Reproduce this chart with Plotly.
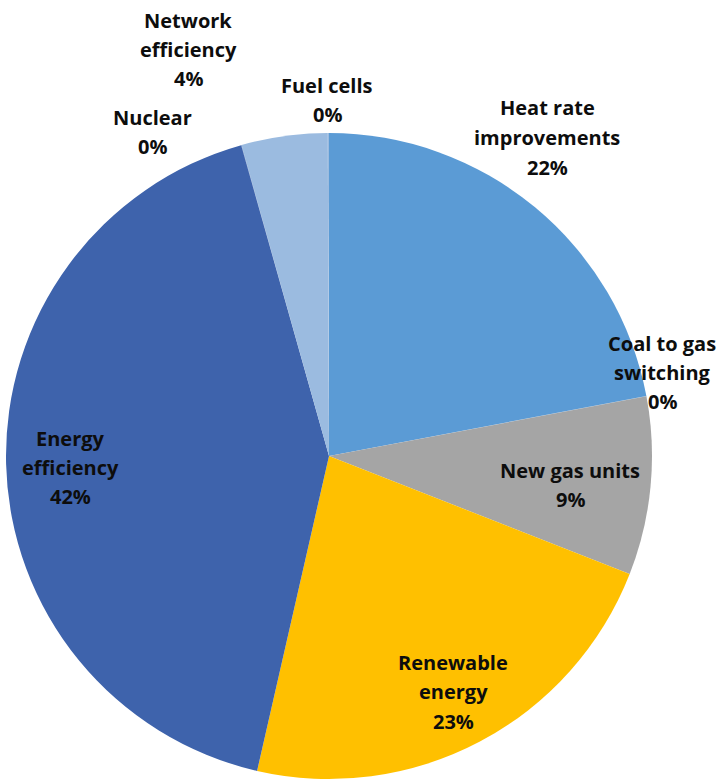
import plotly.graph_objects as go

labels = ["Heat rate<br>improvements", "Coal to gas<br>switching", "New gas units",
          "Renewable<br>energy", "Energy<br>efficiency", "Nuclear",
          "Network<br>efficiency", "Fuel cells"]
values = [22.0, 0.02, 8.9, 22.6, 42.0, 0.02, 4.3, 0.06]
colors = ["#5B9BD5", "#5B9BD5", "#A5A5A5", "#FFC000", "#3E63AC", "#3E63AC", "#9BBBE0", "#9BBBE0"]

# label anchor positions in pixels (centre x, first-line y)
label_pos = [(547, 108), (662, 343), (570, 470), (453, 662), (70, 438), (152, 117), (188, 20), (327, 85)]

W, H = 725, 780
fig = go.Figure(go.Pie(
    labels=[l.replace("<br>", " ") for l in labels], values=values, sort=False,
    direction="clockwise", rotation=0,
    marker=dict(colors=colors, line=dict(width=0)),
    textinfo="none", hoverinfo="label+percent", showlegend=False,
    domain=dict(x=[6 / W, 652 / W], y=[1 / H, 647 / H]),
))

total = sum(values)
LS = 29.5
for lab, v, (cx, cy) in zip(labels, values, label_pos):
    lines = lab.split("<br>") + [f"{round(v / total * 100)}%"]
    for i, t in enumerate(lines):
        fig.add_annotation(
            x=cx / W, y=1 - (cy + i * LS) / H, xref="paper", yref="paper",
            text=t, showarrow=False, xanchor="center", yanchor="middle",
            font=dict(family="Open Sans", size=20, color="#0D0D0D", weight="bold"),
        )

fig.update_layout(width=W, height=H, margin=dict(l=0, r=0, t=0, b=0),
                  paper_bgcolor="white", plot_bgcolor="white")
fig.write_html("out.html")
